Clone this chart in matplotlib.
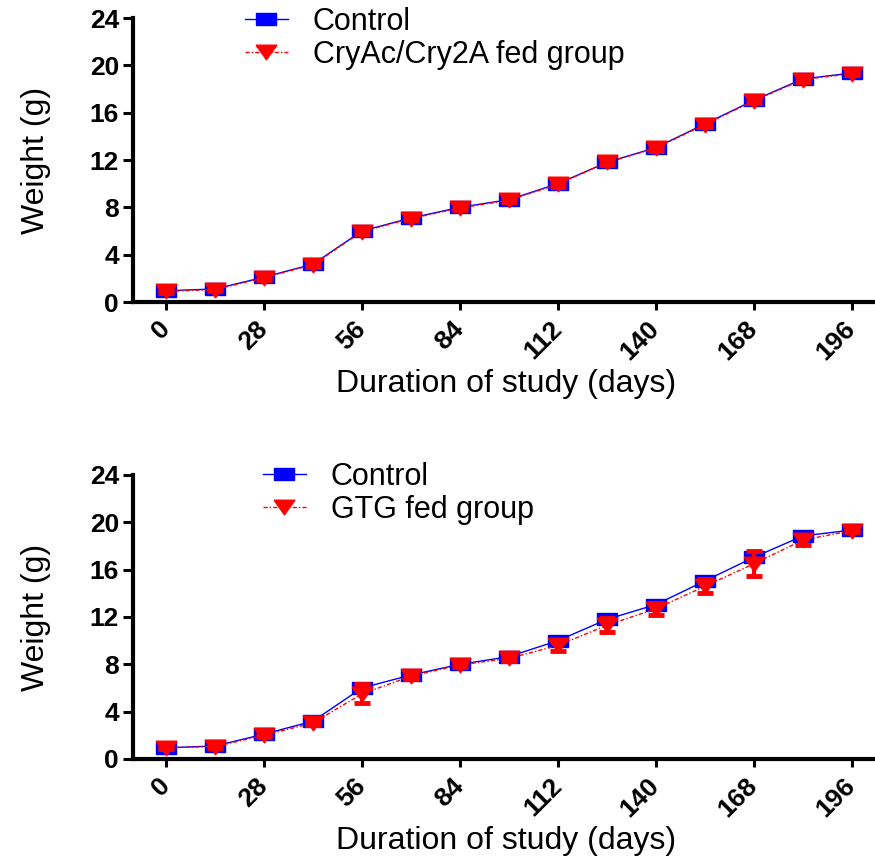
import numpy as np
import matplotlib
matplotlib.use('Agg')
import matplotlib.pyplot as plt
from matplotlib.lines import Line2D

plt.rcParams['font.family'] = ['Liberation Sans', 'DejaVu Sans']

# days of study
days = [0, 14, 28, 42, 56, 70, 84, 98, 112, 126, 140, 154, 168, 182, 196]
xtick_vals = [0, 28, 56, 84, 112, 140, 168, 196]
ytick_vals = [0, 4, 8, 12, 16, 20, 24]

# mean body weight (g)
control = [0.95, 1.1, 2.1, 3.2, 6.0, 7.1, 8.0, 8.65, 10.0, 11.8, 13.05, 15.05, 17.05, 18.85, 19.35]
control_err = [0.05, 0.05, 0.1, 0.1, 0.15, 0.1, 0.1, 0.1, 0.15, 0.15, 0.15, 0.15, 0.15, 0.15, 0.1]

cry = [0.9, 1.05, 2.05, 3.15, 5.95, 7.05, 7.95, 8.6, 9.95, 11.8, 13.0, 15.0, 17.0, 18.8, 19.3]
cry_err = [0.1, 0.1, 0.15, 0.15, 0.2, 0.15, 0.15, 0.15, 0.2, 0.2, 0.2, 0.2, 0.2, 0.2, 0.15]

gtg = [0.95, 1.05, 2.0, 3.05, 5.5, 7.0, 7.95, 8.5, 9.6, 11.3, 12.7, 14.6, 16.5, 18.5, 19.3]
gtg_err = [0.1, 0.1, 0.15, 0.2, 0.8, 0.2, 0.15, 0.2, 0.45, 0.6, 0.5, 0.6, 1.05, 0.45, 0.15]

W, H = 875, 858
fig = plt.figure(figsize=(W / 100, H / 100), dpi=100)

red_ls = (0, (3, 1.5, 1, 1.5))
# slightly flattened square and triangle, like the original markers
sq = [(-1, -0.62), (1, -0.62), (1, 0.62), (-1, 0.62), (-1, -0.62)]
tri = [(-1, 0.7), (1, 0.7), (0, -0.7), (-1, 0.7)]


def panel(top_px, treat, treat_err, treat_label, leg_x, leg_y):
    bottom_px = top_px + 284
    ax = fig.add_axes([133 / W, 1 - bottom_px / H, 742 / W, 284 / H])

    ax.errorbar(days, control, yerr=control_err, color='blue', marker=sq, ms=14.5,
                lw=1, ls='-', ecolor='blue', elinewidth=2, capsize=6, capthick=2,
                zorder=3)
    ax.errorbar(days, treat, yerr=treat_err, color='red', marker=tri, ms=15,
                lw=1, ls=red_ls, ecolor='red', elinewidth=3,
                capsize=6, capthick=3.5, zorder=4)

    ax.set_xlim(-9.43, 202.6)
    ax.set_ylim(0, 24)
    ax.set_xticks(xtick_vals)
    ax.set_yticks(ytick_vals)
    ax.set_xticklabels([str(v) for v in xtick_vals], rotation=45, ha='right',
                       va='center', rotation_mode='anchor',
                       fontsize=19, fontweight='bold')
    ax.set_yticklabels([str(v) for v in ytick_vals], fontsize=19, fontweight='bold')
    ax.tick_params(axis='y', length=7, width=2.2, pad=3)
    ax.tick_params(axis='x', length=5.5, width=2.2, pad=11)

    for s in ['top', 'right']:
        ax.spines[s].set_visible(False)
    for s in ['left', 'bottom']:
        ax.spines[s].set_linewidth(3)

    ax.set_ylabel('Weight (g)', fontsize=23)
    ax.yaxis.set_label_coords(-0.11, 0.5)
    ax.set_xlabel('Duration of study (days)', fontsize=23)
    ax.xaxis.set_label_coords(0.503, -0.236)

    handles = [
        Line2D([], [], color='blue', marker=sq, ms=14.5, lw=1, ls='-'),
        Line2D([], [], color='red', marker=tri, ms=15, lw=1, ls=red_ls),
    ]
    ax.legend(handles, ['Control', treat_label], loc='upper left',
              bbox_to_anchor=(leg_x / W, 1 - leg_y / H),
              bbox_transform=fig.transFigure, frameon=False, fontsize=22,
              handlelength=1.4, handletextpad=0.82, labelspacing=0.1,
              borderpad=0, borderaxespad=0)
    return ax


panel(18, cry, cry_err, 'CryAc/Cry2A fed group', 245, 7)
panel(475, gtg, gtg_err, 'GTG fed group', 263, 462)

plt.savefig('out.png', dpi=100)
plt.close()
